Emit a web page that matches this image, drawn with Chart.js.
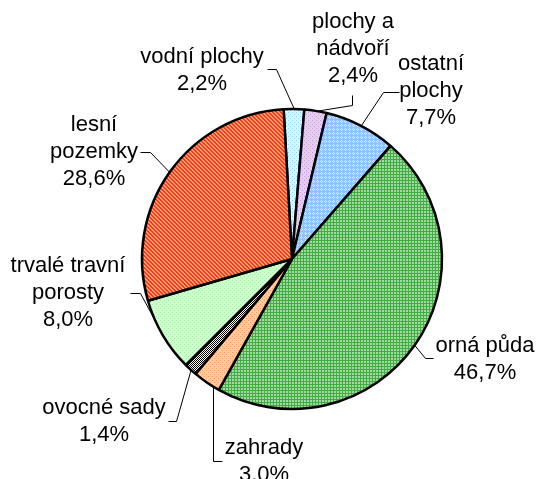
<!DOCTYPE html>
<html>
<head>
<meta charset="utf-8">
<script src="https://cdn.jsdelivr.net/npm/chart.js@4.4.1/dist/chart.umd.min.js"></script>
<style>
  html, body { margin: 0; padding: 0; background: #fff; }
  canvas { display: block; }
</style>
</head>
<body>
<canvas id="landChart" width="536" height="479"></canvas>
<script>
// -----------------------------
// Data (clockwise from the top)
// -----------------------------
const categories = [
  ["vodní plochy"],
  ["plochy a", "nádvoří"],
  ["ostatní", "plochy"],
  ["orná půda"],
  ["zahrady"],
  ["ovocné sady"],
  ["trvalé travní", "porosty"],
  ["lesní", "pozemky"]
];
const shares = [2.2, 2.4, 7.7, 46.7, 3.0, 1.4, 8.0, 28.6];

// label placement: text centre x, first line y, leader elbow points (label side first)
const labelLayout = [
  { x: 202, y: 57, leader: [[267, 69], [276, 69]] },
  { x: 353, y: 22, leader: [[352, 95], [352, 105]] },
  { x: 431, y: 64, leader: [[399, 92], [383, 92]] },
  { x: 485, y: 346, leader: [[433, 358], [425, 358]] },
  { x: 264, y: 448, leader: [[222, 461], [213, 461]], vertical: true },
  { x: 104, y: 408, leader: [[168, 421], [176, 421]] },
  { x: 68, y: 266, leader: [[130, 293], [140, 293]] },
  { x: 94, y: 125, leader: [[140, 152], [150, 152]] }
];

const LINE_H = 27;

// -----------------------------
// Fill patterns (Excel-like textures)
// -----------------------------
const canvas = document.getElementById("landChart");
const mainCtx = canvas.getContext("2d");

function makePattern(rows, palette) {
  const c = document.createElement("canvas");
  c.width = rows[0].length;
  c.height = rows.length;
  const ctx = c.getContext("2d");
  rows.forEach((row, y) => {
    [...row].forEach((ch, x) => {
      ctx.fillStyle = palette[ch];
      ctx.fillRect(x, y, 1, 1);
    });
  });
  return mainCtx.createPattern(c, "repeat");
}

const dots = ["baaa", "aaaa", "aaba", "aaaa"];

const fills = [
  makePattern(dots, { a: "#ccffff", b: "#99ccff" }),
  makePattern(dots, { a: "#e6cfec", b: "#c49cd6" }),
  makePattern(["abaa", "baba", "abaa", "aaaa"], { a: "#8fc2ff", b: "#d6eaff" }),
  makePattern(["ddd", "dll", "dll"], { d: "#44aa44", l: "#a0dca0" }),
  makePattern(dots, { a: "#ffcc99", b: "#ff9966" }),
  makePattern(["kw", "wk"], { k: "#000000", w: "#ffffff" }),
  makePattern(dots, { a: "#ccffcc", b: "#a8eca8" }),
  makePattern(["rrll", "lrrl", "llrr", "rllr"], { r: "#f03c20", l: "#ff9c6c" })
];

function fmtPct(v) {
  return v.toFixed(1).replace(".", ",") + "%";
}

// -----------------------------
// Labels + leader lines
// -----------------------------
const pieLabels = {
  id: "pieLabels",
  afterDatasetsDraw(chart) {
    const ctx = chart.ctx;
    const arcs = chart.getDatasetMeta(0).data;
    ctx.save();
    ctx.strokeStyle = "#000";
    ctx.lineWidth = 1;
    arcs.forEach((arc, i) => {
      const { x, y, startAngle, endAngle, outerRadius } = arc.getProps(
        ["x", "y", "startAngle", "endAngle", "outerRadius"], true);
      const lay = labelLayout[i];
      const pts = lay.leader.slice();
      let tip;
      if (lay.vertical) {
        const ex = pts[pts.length - 1][0];
        tip = [ex, y + Math.sqrt(outerRadius * outerRadius - (ex - x) * (ex - x))];
      } else {
        const mid = (startAngle + endAngle) / 2;
        tip = [x + Math.cos(mid) * outerRadius, y + Math.sin(mid) * outerRadius];
      }
      pts.push(tip);
      ctx.beginPath();
      ctx.moveTo(pts[0][0] + 0.5, pts[0][1] + 0.5);
      for (let k = 1; k < pts.length; k++) ctx.lineTo(pts[k][0] + 0.5, pts[k][1] + 0.5);
      ctx.stroke();

      ctx.fillStyle = "#000";
      ctx.font = '22px "Liberation Sans", Arial, sans-serif';
      ctx.textAlign = "center";
      ctx.textBaseline = "middle";
      const lines = categories[i].concat([fmtPct(shares[i])]);
      lines.forEach((t, k) => ctx.fillText(t, lay.x, lay.y + k * LINE_H));
    });
    ctx.restore();
  }
};

// -----------------------------
// Chart
// -----------------------------
new Chart(canvas, {
  type: "pie",
  data: {
    labels: categories.map(c => c.join(" ")),
    datasets: [{
      data: shares,
      backgroundColor: fills,
      borderColor: "#000",
      borderWidth: 2.5
    }]
  },
  options: {
    responsive: false,
    animation: false,
    rotation: -3.2,
    radius: 150,
    layout: { padding: { left: 48, right: 0, top: 39, bottom: 0 } },
    plugins: {
      legend: { display: false },
      tooltip: { enabled: false }
    }
  },
  plugins: [pieLabels]
});
</script>
</body>
</html>
